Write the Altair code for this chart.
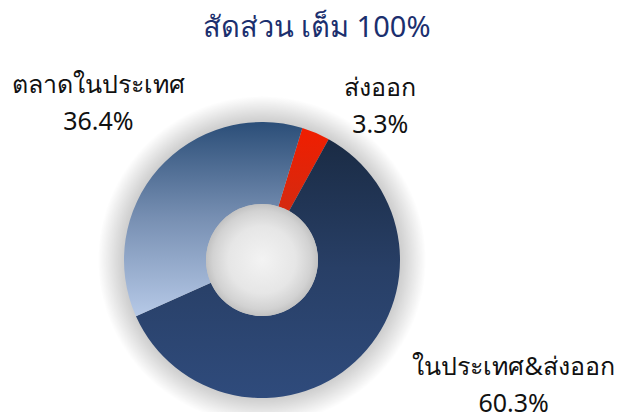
import math
import altair as alt
import pandas as pd

# ---- data ----
categories = ["ส่งออก", "ในประเทศ&ส่งออก", "ตลาดในประเทศ"]
values = [3.3, 60.3, 36.4]
pct_labels = ["3.3%", "60.3%", "36.4%"]
title_text = "สัดส่วน เต็ม 100%"

df = pd.DataFrame({"category": categories, "value": values, "pct": pct_labels})

# ---- style ----
FONT = "Noto Sans"
CX, CY = 254, 212          # donut centre inside plot area
R_OUT, R_IN = 138, 56
START = math.radians(17)
sc = alt.Scale(domain=[0, 100], range=[START, START + 2 * math.pi])

base = (
    alt.Chart(df)
    .transform_window(cum="sum(value)", frame=[None, 0])
    .transform_calculate(
        start="datum.cum - datum.value",
        mid="datum.cum - datum.value / 2",
        label="datum.category + '\\n' + datum.pct",
    )
)

def lin(c1, c2, mid=None):
    stops = [alt.GradientStop(color=c1, offset=0)]
    if mid:
        stops.append(alt.GradientStop(color=mid, offset=0.5))
    stops.append(alt.GradientStop(color=c2, offset=1))
    return alt.LinearGradient(gradient="linear", stops=stops, x1=0, x2=0, y1=0, y2=1)

fills = {
    "ส่งออก": lin("#f01e00", "#d42a10"),
    "ในประเทศ&ส่งออก": lin("#1a2b44", "#2f4b7c", "#283f66"),
    "ตลาดในประเทศ": lin("#2b4e78", "#b6c9e7", "#7890b3"),
}

one = pd.DataFrame({"k": [0]})

shadow = alt.Chart(one).mark_arc(
    radius=164, theta=0, theta2=2 * math.pi,
    fill=alt.RadialGradient(
        gradient="radial", x1=0.5, y1=0.5, r1=0, x2=0.5, y2=0.5, r2=0.5,
        stops=[
            alt.GradientStop(color="#c2c2c2", offset=0.80),
            alt.GradientStop(color="#d6d6d6", offset=0.87),
            alt.GradientStop(color="#ececec", offset=0.94),
            alt.GradientStop(color="#ffffff", offset=1.0),
        ],
    ),
).encode(x=alt.value(CX), y=alt.value(CY))

slices = []
for cat in categories:
    slices.append(
        base.transform_filter(alt.datum.category == cat)
        .mark_arc(radius=R_OUT, radius2=R_IN, fill=fills[cat])
        .encode(
            theta=alt.Theta("start:Q", scale=sc),
            theta2="cum:Q",
            x=alt.value(CX), y=alt.value(CY),
        )
    )

hole = alt.Chart(one).mark_arc(
    radius=R_IN, theta=0, theta2=2 * math.pi,
    fill=alt.RadialGradient(
        gradient="radial", x1=0.5, y1=0.5, r1=0, x2=0.5, y2=0.5, r2=0.5,
        stops=[
            alt.GradientStop(color="#f3f3f3", offset=0.0),
            alt.GradientStop(color="#e6e6e6", offset=0.6),
            alt.GradientStop(color="#d2d2d2", offset=0.88),
            alt.GradientStop(color="#c2c2c2", offset=1.0),
        ],
    ),
).encode(x=alt.value(CX), y=alt.value(CY))

offsets = {
    "ส่งออก": (54, -20),
    "ในประเทศ&ส่งออก": (140, -14),
    "ตลาดในประเทศ": (-40, -66),
}
labels = []
for cat in categories:
    dx, dy = offsets[cat]
    labels.append(
        base.transform_filter(alt.datum.category == cat)
        .mark_text(
            radius=165, dx=dx, dy=dy, lineBreak="\n", lineHeight=37,
            font=FONT, fontSize=25, color="#111111",
            align="center", baseline="middle",
        )
        .encode(
            theta=alt.Theta("mid:Q", scale=sc, stack=False),
            text="label:N",
            x=alt.value(CX), y=alt.value(CY),
        )
    )

chart = (
    alt.layer(shadow, *slices, hole, *labels)
    .properties(
        width=609, height=364,
        background="white",
        autosize=alt.AutoSizeParams(type="none"),
        padding={"top": 40, "left": 0, "right": 0, "bottom": 0},
        title=alt.TitleParams(
            title_text, anchor="middle", font=FONT, fontSize=29,
            fontWeight="normal", color="#1b2f6e", offset=5, dx=4,
        ),
    )
    .configure_view(stroke=None)
)

chart.save("out.html", embed_options={"renderer": "svg", "actions": False})
